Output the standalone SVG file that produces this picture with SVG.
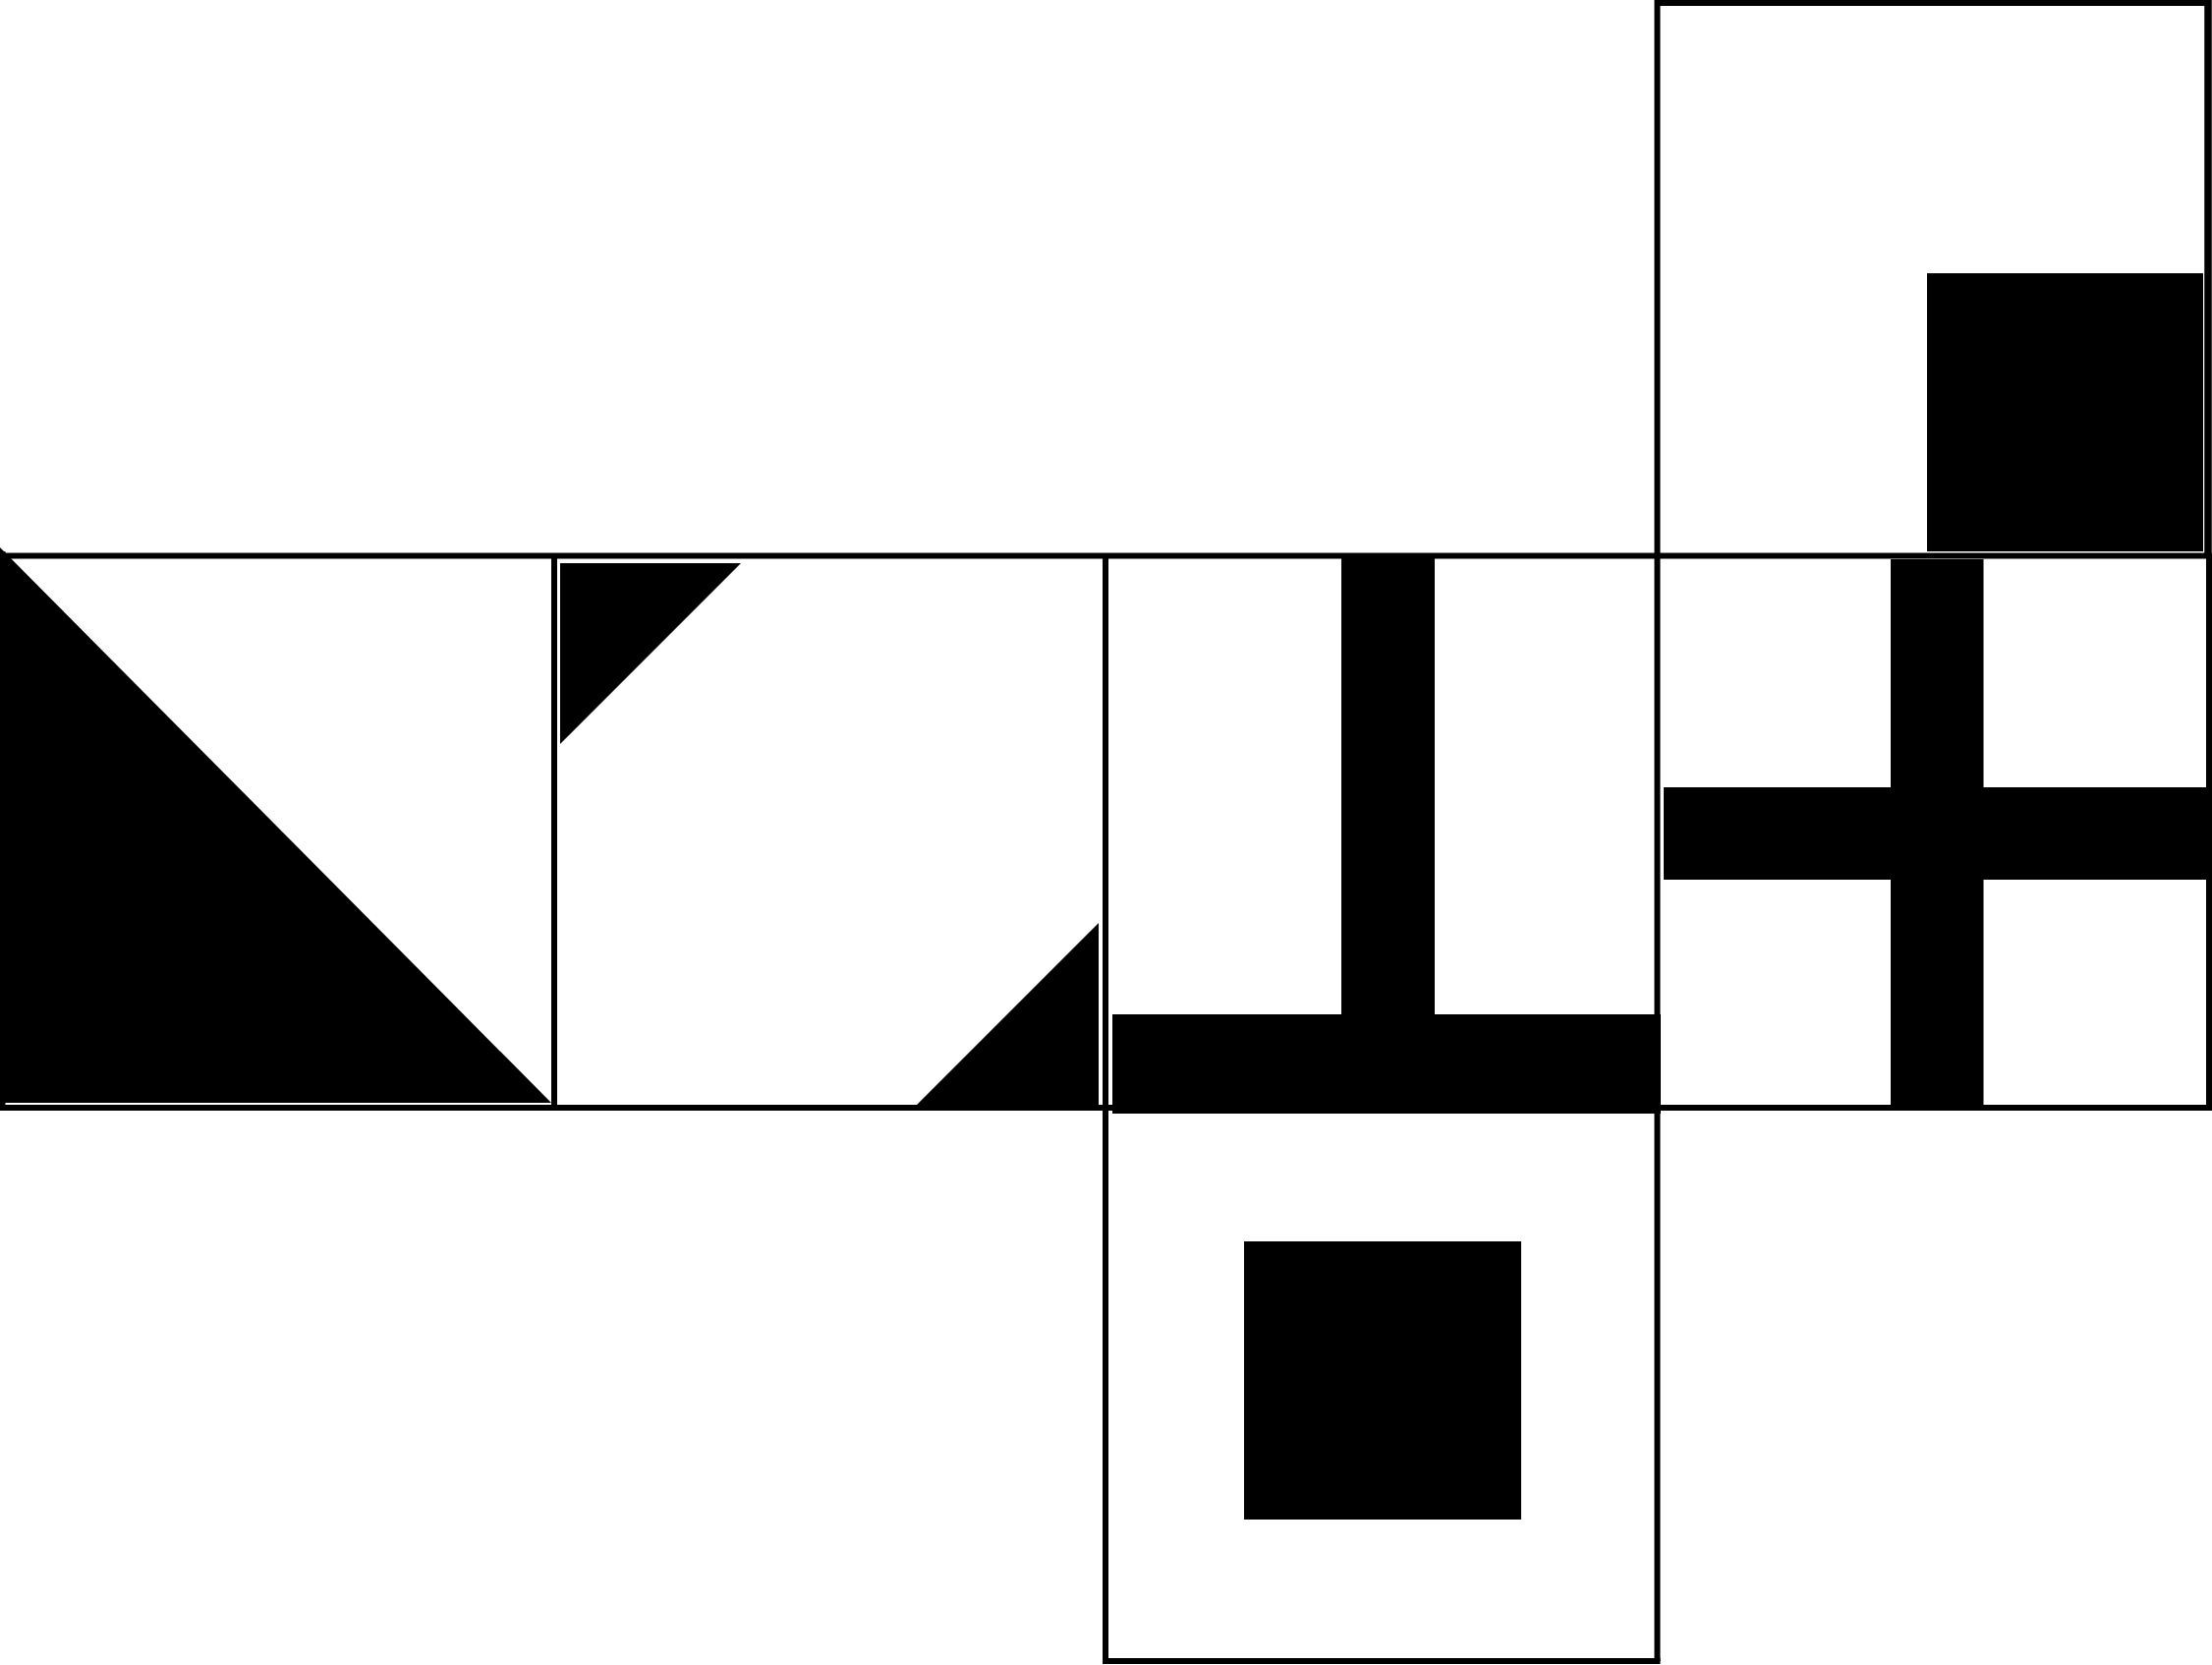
<svg xmlns="http://www.w3.org/2000/svg" width="2251" height="1694" viewBox="0 0 2251 1694">
<style>
.ln{stroke:#000;stroke-width:6;fill:none}
.fl{fill:#000;stroke:none}
</style>
<rect width="2251" height="1694" fill="#fff"/>
<g id="face-left">
<polygon class="fl" points="0,557 0,1122 561,1122"/>
</g>
<g id="face-back">
<polygon class="fl" points="570,573 754,573 570,757"/>
<polygon class="fl" points="933,1124 1118,1124 1118,939"/>
</g>
<g id="face-top">
<rect class="fl" x="1961" y="278" width="281" height="283"/>
</g>
<g id="face-bottom">
<rect class="fl" x="1266" y="1263" width="282" height="283"/>
</g>
<g id="outlines">
<line class="ln" x1="0" y1="565.5" x2="2251" y2="565.5"/>
<line class="ln" x1="0" y1="1127" x2="2251" y2="1127"/>
<line class="ln" x1="1686" y1="3" x2="2247" y2="3"/>
<line class="ln" x1="2247" y1="0" x2="2247" y2="566" style="stroke-width:7.5"/>
<line class="ln" x1="2248" y1="565" x2="2248" y2="1130"/>
<line class="ln" x1="2.5" y1="561" x2="2.5" y2="1130"/>
<line class="ln" x1="564" y1="565" x2="564" y2="1127"/>
<line class="ln" x1="1125" y1="565" x2="1125" y2="1693"/>
<line class="ln" x1="1686.5" y1="0" x2="1686.5" y2="1690"/>
<line class="ln" x1="1122" y1="1690" x2="1689.5" y2="1690"/>
</g>
<g id="face-front">
<rect class="fl" x="1365" y="565" width="95" height="467"/>
<rect class="fl" x="1132" y="1032" width="558" height="101"/>
</g>
<g id="face-right">
<rect class="fl" x="1924" y="569" width="94.5" height="555"/>
<rect class="fl" x="1693" y="801" width="557" height="94"/>
</g>
</svg>
